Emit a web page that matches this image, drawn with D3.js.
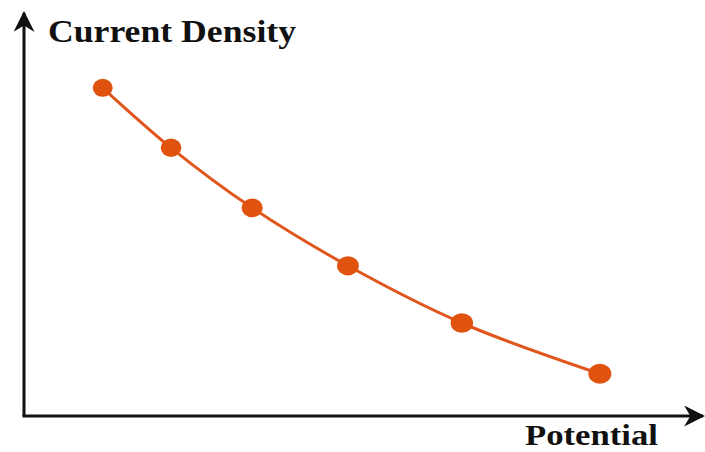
<!DOCTYPE html>
<html><head><meta charset="utf-8">
<script src="https://cdn.jsdelivr.net/npm/d3@7"></script>
<style>body{margin:0;background:#fff}svg{display:block}</style>
</head><body>
<svg id="c" width="705" height="452"></svg>
<script>
const potential = [1.16, 2.18, 3.39, 4.82, 6.52, 8.58];
const currentDensity = [8.18, 6.68, 5.18, 3.73, 2.30, 1.03];
const xLabel = "Potential";
const yLabel = "Current Density";

const svg = d3.select("#c");
const x = d3.scaleLinear().domain([0, 10]).range([24, 703]);
const y = d3.scaleLinear().domain([0, 10]).range([416, 13]);
const data = potential.map((p, i) => ({p, c: currentDensity[i]}));

svg.append("defs").append("marker")
  .attr("id", "arr").attr("viewBox", "0 0 10 10").attr("refX", 9).attr("refY", 5)
  .attr("markerWidth", 7).attr("markerHeight", 7).attr("markerUnits", "strokeWidth")
  .attr("orient", "auto")
  .append("path").attr("d", "M0,0 L10,5 L0,10 L3,5 Z").attr("fill", "#111");

const px = d3.scaleLinear().domain([0, 10]).range([25, 695]);
const py = d3.scaleLinear().domain([0, 10]).range([415, 15]);

// axes
svg.append("line").attr("x1", x(0)).attr("y1", y(0)).attr("x2", x(0)).attr("y2", y(10))
  .attr("stroke", "#111").attr("stroke-width", 3).attr("marker-end", "url(#arr)");
svg.append("line").attr("x1", x(0) - 1.5).attr("y1", y(0)).attr("x2", x(10)).attr("y2", y(0))
  .attr("stroke", "#111").attr("stroke-width", 3).attr("marker-end", "url(#arr)");

const line = d3.line().x(d => px(d.p)).y(d => py(d.c)).curve(d3.curveCatmullRom);
svg.append("path").datum(data).attr("d", line).attr("fill", "none")
  .attr("stroke", "#e0561c").attr("stroke-width", 3);

svg.selectAll("ellipse.pt").data(data).join("ellipse").attr("class", "pt")
  .attr("cx", d => px(d.p)).attr("cy", d => py(d.c))
  .attr("rx", (d, i) => 10 + i * 0.3).attr("ry", (d, i) => 9 + i * 0.2)
  .attr("fill", "#e0530f");

svg.append("text").attr("x", 48).attr("y", 42).text(yLabel)
  .attr("font-family", "Liberation Serif, serif").attr("font-weight", "bold")
  .attr("font-size", 31).attr("fill", "#111")
  .attr("textLength", 248).attr("lengthAdjust", "spacingAndGlyphs");
svg.append("text").attr("x", 525).attr("y", 445).text(xLabel)
  .attr("font-family", "Liberation Serif, serif").attr("font-weight", "bold")
  .attr("font-size", 30).attr("fill", "#111")
  .attr("textLength", 133).attr("lengthAdjust", "spacingAndGlyphs");
</script>
</body></html>
